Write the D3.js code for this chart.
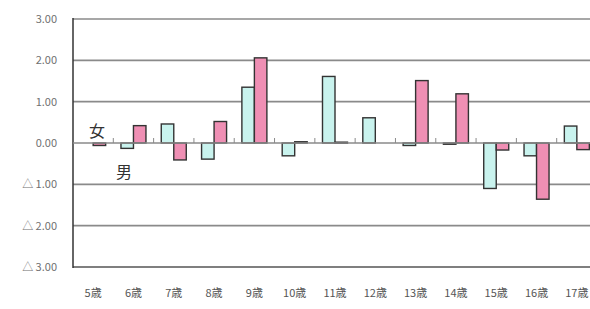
<!DOCTYPE html>
<html><head><meta charset="utf-8">
<script src="https://cdn.jsdelivr.net/npm/d3@7"></script>
<style>body{margin:0;background:#fff;overflow:hidden}svg{display:block}</style>
</head><body>
<svg id="c" width="590" height="309"></svg>
<script>
const categories = ["5歳","6歳","7歳","8歳","9歳","10歳","11歳","12歳","13歳","14歳","15歳","16歳","17歳"];
const male   = [0.00,-0.13,0.46,-0.39,1.35,-0.31,1.61,0.61,-0.06,-0.03,-1.10,-0.31,0.41];
const female = [-0.06,0.42,-0.41,0.52,2.06,0.03,0.02,0.00,1.51,1.19,-0.17,-1.36,-0.16];
const yTicks = [3,2,1,0,-1,-2,-3];

(function(){
const svg = d3.select("#c");
const pL = 73, pR = 597, pT = 19, pB = 267;
const x = d3.scaleBand().domain(categories).range([pL, pR]);
const y = d3.scaleLinear().domain([-3, 3]).range([pB, pT]);
const fmt = v => v < 0 ? "△ " + Math.abs(v).toFixed(2) : v.toFixed(2);

svg.append("g").selectAll("line").data(yTicks.filter(v => v !== 0)).join("line")
  .attr("x1", pL).attr("x2", 590)
  .attr("y1", d => y(d)).attr("y2", d => y(d))
  .attr("stroke", d => d === -3 ? "#555" : "#8a8a8a").attr("stroke-width", 1.6);

svg.append("g").selectAll("text").data(yTicks).join("text")
  .attr("x", 57).attr("y", d => y(d) + 4)
  .attr("text-anchor", "end")
  .attr("font-family", "'Noto Sans CJK JP', sans-serif").attr("font-size", 11)
  .attr("fill", "#707070").text(fmt);

svg.append("line").attr("x1", pL).attr("x2", pL).attr("y1", pT - 1).attr("y2", pB + 1)
  .attr("stroke", "#333").attr("stroke-width", 1.5);

const bw = 12.5;
const bar = (data, fill, off) =>
  svg.append("g").selectAll("rect").data(data.map((v, i) => ({v, c: categories[i]})).filter(d => d.v !== 0)).join("rect")
    .attr("x", d => x(d.c) + x.bandwidth() / 2 + off)
    .attr("width", bw)
    .attr("y", d => Math.min(y(d.v), y(0)))
    .attr("height", d => Math.max(1, Math.abs(y(d.v) - y(0))))
    .attr("fill", fill).attr("stroke", "#333").attr("stroke-width", 1.4);
bar(male, "#c9f3ee", -bw);
bar(female, "#ef8fb4", 0);

svg.append("line").attr("x1", pL).attr("x2", 590).attr("y1", y(0)).attr("y2", y(0))
  .attr("stroke", "#8a8a8a").attr("stroke-width", 1.4);
svg.append("g").selectAll("line").data(categories.slice(1)).join("line")
  .attr("x1", d => x(d)).attr("x2", d => x(d))
  .attr("y1", y(0) - 5).attr("y2", y(0))
  .attr("stroke", "#8a8a8a").attr("stroke-width", 1);

svg.append("g").selectAll("text").data(categories).join("text")
  .attr("x", d => x(d) + x.bandwidth() / 2).attr("y", 297)
  .attr("text-anchor", "middle")
  .attr("font-family", "'Noto Sans CJK JP', sans-serif").attr("font-size", 11)
  .attr("fill", "#555").text(d => d);

svg.append("text").attr("x", 97).attr("y", 137).attr("text-anchor", "middle")
  .attr("font-family", "'Noto Sans CJK JP', sans-serif").attr("font-size", 16).attr("fill", "#333").text("女");
svg.append("text").attr("x", 124).attr("y", 178).attr("text-anchor", "middle")
  .attr("font-family", "'Noto Sans CJK JP', sans-serif").attr("font-size", 16).attr("fill", "#333").text("男");
})();
</script>
</body></html>
